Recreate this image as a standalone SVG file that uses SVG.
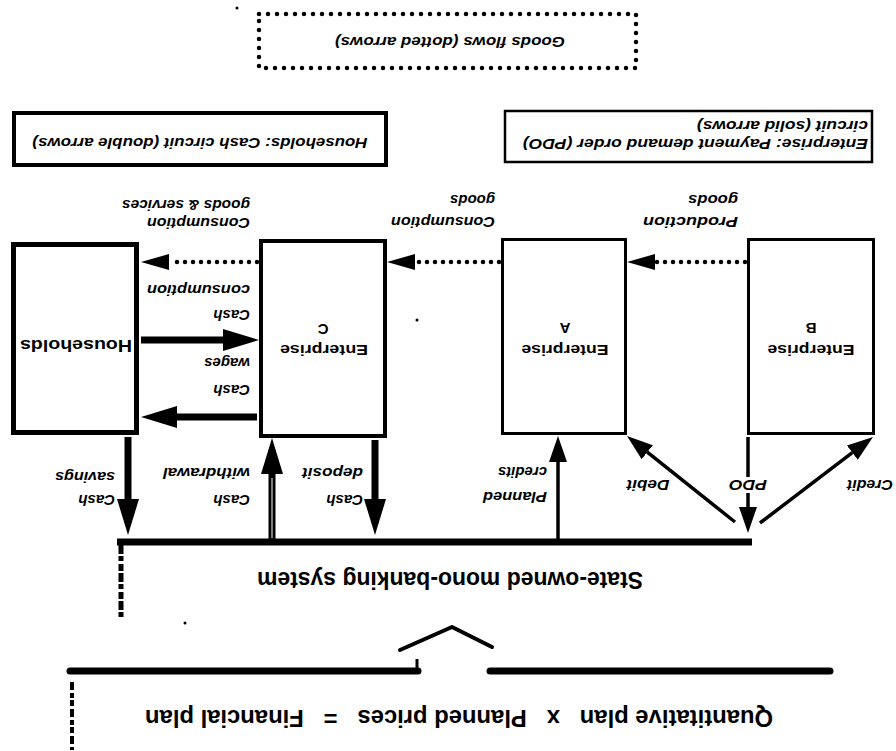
<svg xmlns="http://www.w3.org/2000/svg" width="896" height="751" viewBox="0 0 896 751">
<style>
.box{fill:#fff;stroke:#000}
.t{font-family:"Liberation Sans",Arial,sans-serif;font-weight:bold;fill:#000;dominant-baseline:central}
.i{font-style:italic}
.lbl{font-size:15px;text-anchor:start}
.mid{text-anchor:middle}
.goods{fill:none;stroke:#000;stroke-width:4.5;stroke-dasharray:0 8;stroke-linecap:round}
.cash{fill:none;stroke:#000;stroke-width:7}
.pdo{fill:none;stroke:#000;stroke-width:3.5}
.heavy{fill:none;stroke:#000;stroke-width:7}
</style>
<defs>
<marker id="goodsHead" markerUnits="userSpaceOnUse" markerWidth="28" markerHeight="16" viewBox="0 0 28 16" refX="0" refY="8" orient="auto"><path d="M0,0 L28,8 L0,16 Z" fill="#000"/></marker>
<marker id="cashHead" markerUnits="userSpaceOnUse" markerWidth="36" markerHeight="22" viewBox="0 0 36 22" refX="0" refY="11" orient="auto"><path d="M0,0 L36,11 L0,22 Z" fill="#000"/></marker>
<marker id="pdoHead" markerUnits="userSpaceOnUse" markerWidth="26" markerHeight="18" viewBox="0 0 26 18" refX="0" refY="9" orient="auto"><path d="M0,0 L26,9 L0,18 Z" fill="#000"/></marker>
</defs>
<rect width="896" height="751" fill="#fff"/>

<g id="legend-goods">
<rect x="259" y="14" width="377" height="54" fill="none" stroke="#000" stroke-width="4.5" stroke-dasharray="0 9" stroke-linecap="round"/>
<text class="t i mid" font-size="14" x="450" y="42" transform="rotate(180 450 42)" textLength="230" lengthAdjust="spacingAndGlyphs">Goods flows (dotted arrows)</text>
</g>

<g id="legend-households">
<rect class="box" x="14" y="113" width="372" height="52" stroke-width="4"/>
<text class="t i mid" font-size="14" x="200" y="143" transform="rotate(180 200 143)" textLength="335" lengthAdjust="spacingAndGlyphs">Households:  Cash circuit (double arrows)</text>
</g>

<g id="legend-enterprise">
<rect class="box" x="505" y="111" width="367" height="51" stroke-width="2.5"/>
<text class="t i" font-size="14" x="868" y="144" transform="rotate(180 868 144)" textLength="345" lengthAdjust="spacingAndGlyphs">Enterprise:  Payment demand order (PDO)</text>
<text class="t i" font-size="14" x="868" y="126" transform="rotate(180 868 126)" textLength="171" lengthAdjust="spacingAndGlyphs">circuit (solid arrows)</text>
</g>

<g id="node-households">
<rect class="box" x="13.5" y="244.5" width="123" height="188" stroke-width="5"/>
<text class="t mid" font-size="16" x="76" y="345" transform="rotate(180 76 345)" textLength="112" lengthAdjust="spacingAndGlyphs">Households</text>
</g>

<g id="node-enterprise-c">
<rect class="box" x="261" y="241" width="124" height="195" stroke-width="4"/>
<text class="t mid" font-size="15" x="324" y="350" transform="rotate(180 324 350)" textLength="88" lengthAdjust="spacingAndGlyphs">Enterprise</text>
<text class="t mid" font-size="15" x="323" y="329" transform="rotate(180 323 329)">C</text>
</g>

<g id="node-enterprise-a">
<rect class="box" x="502.5" y="239.5" width="123" height="194" stroke-width="3"/>
<text class="t mid" font-size="15" x="565" y="350" transform="rotate(180 565 350)" textLength="87" lengthAdjust="spacingAndGlyphs">Enterprise</text>
<text class="t mid" font-size="15" x="565" y="328" transform="rotate(180 565 328)">A</text>
</g>

<g id="node-enterprise-b">
<rect class="box" x="748.5" y="239.5" width="125" height="194" stroke-width="3"/>
<text class="t mid" font-size="15" x="811" y="350" transform="rotate(180 811 350)" textLength="87" lengthAdjust="spacingAndGlyphs">Enterprise</text>
<text class="t mid" font-size="15" x="811" y="328" transform="rotate(180 811 328)">B</text>
</g>

<g id="node-bank">
<path class="heavy" d="M117,542 H752"/>
<text class="t mid" font-size="23" x="450" y="580" transform="rotate(180 450 580)" textLength="386" lengthAdjust="spacingAndGlyphs">State-owned mono-banking system</text>
</g>

<g id="node-plan">
<path class="heavy" d="M70,671 H418" stroke-linecap="round"/>
<path d="M417,671 V659" stroke="#000" stroke-width="3" fill="none"/>
<path class="heavy" d="M490,671 H830" stroke-linecap="round"/>
<polyline points="400,650 452,627 492,647" fill="none" stroke="#000" stroke-width="4" stroke-linejoin="round" stroke-linecap="round"/>
<text class="t mid" font-size="23" x="459" y="718" transform="rotate(180 459 718)" textLength="628" lengthAdjust="spacingAndGlyphs">Quantitative plan &#160; x &#160; Planned prices &#160; = &#160; Financial plan</text>
</g>

<g id="connectors">
<path class="goods" d="M745,262 H655" marker-end="url(#goodsHead)"/>
<path class="goods" d="M499,262 H415" marker-end="url(#goodsHead)"/>
<path class="goods" d="M257,262 H169" marker-end="url(#goodsHead)"/>
<path class="cash" d="M141,340 H223" marker-end="url(#cashHead)"/>
<path class="cash" d="M257,417 H177" marker-end="url(#cashHead)"/>
<path class="cash" d="M128,437 V499" marker-end="url(#cashHead)"/>
<path class="cash" d="M272,539 V474" marker-end="url(#cashHead)"/>
<path d="M272,538 V478" stroke="#fff" stroke-width="1" fill="none"/>
<path class="cash" d="M375,440 V499" marker-end="url(#cashHead)"/>
<path class="pdo" d="M558,539 V462" stroke-width="3" marker-end="url(#pdoHead)"/>
<path class="pdo" d="M735,522 L647.3,452.2" marker-end="url(#pdoHead)"/>
<path class="pdo" d="M748,437 V507" marker-end="url(#pdoHead)"/>
<path class="pdo" d="M760,523 L852.3,452.7" marker-end="url(#pdoHead)"/>
</g>

<g id="connector-labels">
<text class="t i lbl" x="250" y="223" transform="rotate(180 250 223)" textLength="103" lengthAdjust="spacingAndGlyphs">Consumption</text>
<text class="t i lbl" x="250" y="205" transform="rotate(180 250 205)" textLength="128" lengthAdjust="spacingAndGlyphs">goods &amp; services</text>
<text class="t i lbl" x="250" y="315" transform="rotate(180 250 315)">Cash</text>
<text class="t i lbl" x="250" y="290" transform="rotate(180 250 290)" textLength="103" lengthAdjust="spacingAndGlyphs">consumption</text>
<text class="t i lbl" x="250" y="390" transform="rotate(180 250 390)">Cash</text>
<text class="t i lbl" x="250" y="363" transform="rotate(180 250 363)">wages</text>
<text class="t i lbl" x="495" y="222" transform="rotate(180 495 222)" textLength="104" lengthAdjust="spacingAndGlyphs">Consumption</text>
<text class="t i lbl" x="495" y="200" transform="rotate(180 495 200)">goods</text>
<text class="t i lbl" x="738" y="222" transform="rotate(180 738 222)" textLength="95" lengthAdjust="spacingAndGlyphs">Production</text>
<text class="t i lbl" x="738" y="200" transform="rotate(180 738 200)" textLength="50" lengthAdjust="spacingAndGlyphs">goods</text>
<text class="t i lbl" x="115" y="500" transform="rotate(180 115 500)">Cash</text>
<text class="t i lbl" x="115" y="477" transform="rotate(180 115 477)" textLength="60" lengthAdjust="spacingAndGlyphs">savings</text>
<text class="t i lbl" x="250" y="500" transform="rotate(180 250 500)">Cash</text>
<text class="t i lbl" x="250" y="473" transform="rotate(180 250 473)" textLength="87" lengthAdjust="spacingAndGlyphs">withdrawal</text>
<text class="t i lbl" x="363" y="500" transform="rotate(180 363 500)">Cash</text>
<text class="t i lbl" x="363" y="473" transform="rotate(180 363 473)" textLength="61" lengthAdjust="spacingAndGlyphs">deposit</text>
<text class="t i lbl" x="547" y="497" transform="rotate(180 547 497)" textLength="64" lengthAdjust="spacingAndGlyphs">Planned</text>
<text class="t i lbl" x="547" y="472" transform="rotate(180 547 472)">credits</text>
<text class="t i lbl mid" x="648" y="485" transform="rotate(180 648 485)" textLength="43" lengthAdjust="spacingAndGlyphs">Debit</text>
<rect x="729" y="477" width="39" height="16" fill="#fff"/>
<text class="t i lbl mid" x="748" y="485" transform="rotate(180 748 485)" textLength="38" lengthAdjust="spacingAndGlyphs">PDO</text>
<text class="t i lbl mid" x="870" y="485" transform="rotate(180 870 485)" textLength="46" lengthAdjust="spacingAndGlyphs">Credit</text>
</g>

<g id="specks" fill="#000">
<path d="M121,545 V617" stroke="#000" stroke-width="5" stroke-dasharray="9 2 5 3 7 2" fill="none"/>
<path d="M72,682 V750" stroke="#000" stroke-width="4" stroke-dasharray="8 3 5 2 6 3" fill="none"/>
<circle cx="417" cy="320" r="1.5"/>
<circle cx="185" cy="623" r="1.5"/>
<circle cx="237" cy="8" r="1.5"/>
</g>
</svg>
